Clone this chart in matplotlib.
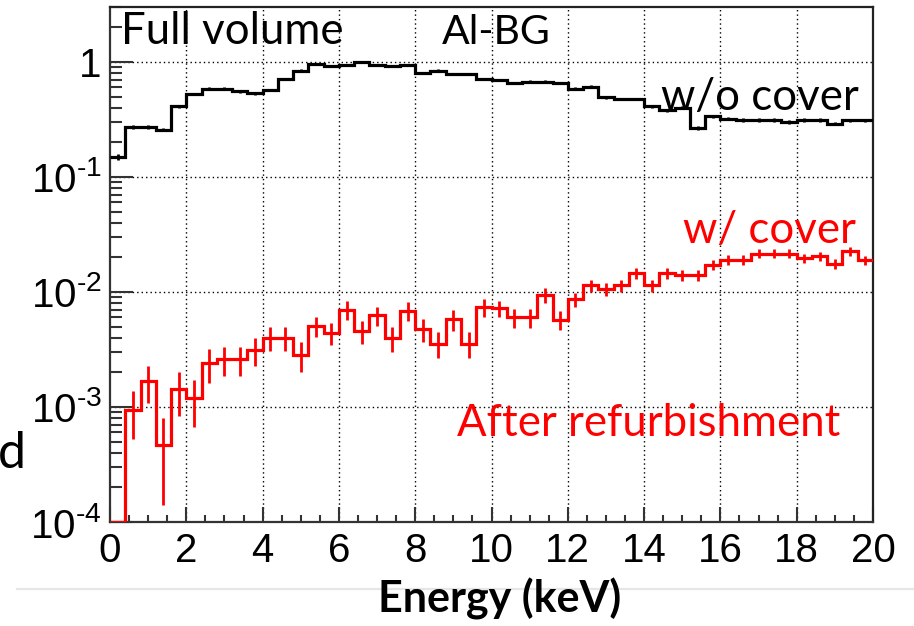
import numpy as np
import matplotlib
matplotlib.use("Agg")
import matplotlib.pyplot as plt
from matplotlib.lines import Line2D
from matplotlib.ticker import FixedLocator, FixedFormatter, LogLocator, MultipleLocator, NullFormatter

# ---------------- data ----------------
bin_edges_keV = np.arange(0, 20.0001, 0.4)

wo_cover = [0.149, 0.272, 0.272, 0.258, 0.411, 0.527, 0.586, 0.586, 0.555, 0.533,
            0.571, 0.706, 0.840, 0.966, 0.916, 0.935, 1.000, 0.940, 0.916, 0.947,
            0.800, 0.840, 0.790, 0.790, 0.710, 0.700, 0.656, 0.674, 0.674, 0.652,
            0.586, 0.610, 0.492, 0.476, 0.476, 0.411, 0.380, 0.398, 0.265, 0.336,
            0.321, 0.313, 0.313, 0.313, 0.301, 0.313, 0.313, 0.290, 0.310, 0.310]
wo_cover_err = [0.009, 0.009, 0.009, 0.009, 0.012, 0.014, 0.015, 0.015, 0.015, 0.014,
                0.015, 0.017, 0.019, 0.021, 0.020, 0.020, 0.021, 0.020, 0.020, 0.020,
                0.018, 0.019, 0.018, 0.018, 0.017, 0.017, 0.016, 0.016, 0.016, 0.016,
                0.015, 0.015, 0.014, 0.013, 0.013, 0.012, 0.012, 0.012, 0.010, 0.011,
                0.011, 0.011, 0.011, 0.011, 0.011, 0.011, 0.011, 0.010, 0.011, 0.011]

w_cover = [0.0, 9.5e-4, 1.68e-3, 4.7e-4, 1.43e-3, 1.19e-3, 2.40e-3, 2.60e-3, 2.60e-3, 3.13e-3,
           4.00e-3, 4.00e-3, 2.85e-3, 5.05e-3, 4.38e-3, 7.00e-3, 4.55e-3, 6.26e-3, 3.98e-3, 6.87e-3,
           4.75e-3, 3.56e-3, 5.77e-3, 3.56e-3, 7.36e-3, 7.20e-3, 6.00e-3, 6.00e-3, 9.40e-3, 5.74e-3,
           8.60e-3, 0.0114, 0.0106, 0.0114, 0.0146, 0.0114, 0.0146, 0.0141, 0.0141, 0.0173,
           0.0191, 0.0191, 0.0215, 0.0215, 0.0215, 0.0197, 0.0204, 0.0176, 0.0226, 0.0188]
w_cover_err = [0.0, 4.2e-4, 6.0e-4, 3.3e-4, 5.9e-4, 5.2e-4, 7.7e-4, 7.5e-4, 7.5e-4, 8.5e-4,
               9.5e-4, 9.5e-4, 8.3e-4, 1.0e-3, 9.5e-4, 1.3e-3, 1.0e-3, 1.2e-3, 9.5e-4, 1.25e-3,
               1.05e-3, 9.0e-4, 1.15e-3, 9.0e-4, 1.25e-3, 1.2e-3, 1.1e-3, 1.1e-3, 1.35e-3, 1.05e-3,
               1.25e-3, 1.4e-3, 1.35e-3, 1.4e-3, 1.6e-3, 1.4e-3, 1.6e-3, 1.55e-3, 1.55e-3, 1.7e-3,
               1.8e-3, 1.8e-3, 1.9e-3, 1.9e-3, 1.9e-3, 1.8e-3, 1.85e-3, 1.7e-3, 1.95e-3, 1.75e-3]

x_ticks = [0, 2, 4, 6, 8, 10, 12, 14, 16, 18, 20]
x_tick_labels = ["0", "2", "4", "6", "8", "10", "12", "14", "16", "18", "20"]
y_ticks = [1e-4, 1e-3, 1e-2, 1e-1, 1]
y_tick_labels = [r"$\mathdefault{10^{\text{-4}}}$", r"$\mathdefault{10^{\text{-3}}}$",
                 r"$\mathdefault{10^{\text{-2}}}$", r"$\mathdefault{10^{\text{-1}}}$", "1"]
y_range = (1e-4, 3.0)

# ---------------- style ----------------
plt.rcParams["font.family"] = ["Liberation Sans", "DejaVu Sans"]
plt.rcParams["mathtext.fontset"] = "custom"
plt.rcParams["mathtext.rm"] = "Liberation Sans"

W, H = 914, 626
fig = plt.figure(figsize=(W / 100, H / 100), dpi=100)
L, R, B, T = 110, 873, 522, 7
ax = fig.add_axes([L / W, 1 - B / H, (R - L) / W, (B - T) / H])

def fx(px):
    return px / W

def fy(py):
    return 1 - py / H

edges = np.array(bin_edges_keV)
centers = 0.5 * (edges[:-1] + edges[1:])
wo = np.array(wo_cover)
wc = np.array(w_cover)

ax.set_yscale("log")
ax.set_xlim(0, 20)
ax.set_ylim(*y_range)

# grid
for xv in x_ticks[1:-1]:
    ax.axvline(xv, color="black", lw=1.0, ls=(0, (1, 2.2)), zorder=1)
for yv in y_ticks[1:]:
    ax.axhline(yv, color="black", lw=1.0, ls=(0, (1, 2.2)), zorder=1)

# black histogram
ax.stairs(wo, edges, baseline=None, color="black", lw=2.3, zorder=3)
ax.errorbar(centers, wo, yerr=wo_cover_err, fmt="none", ecolor="black",
            elinewidth=2.0, capsize=0, zorder=3)

# red histogram
wc_draw = np.where(wc > 0, wc, y_range[0])
ax.stairs(wc_draw, edges, baseline=None, color="#ff0000", lw=2.3, zorder=4)
m = wc > 0
ax.errorbar(centers[m], wc[m], yerr=np.array(w_cover_err)[m], fmt="none",
            ecolor="#ff0000", elinewidth=2.0, capsize=0, zorder=4)

# ticks
ax.xaxis.set_major_locator(FixedLocator(x_ticks))
ax.xaxis.set_major_formatter(FixedFormatter(x_tick_labels))
ax.xaxis.set_minor_locator(MultipleLocator(0.5))
ax.yaxis.set_major_locator(FixedLocator(y_ticks))
ax.yaxis.set_major_formatter(FixedFormatter(y_tick_labels))
ax.yaxis.set_minor_locator(LogLocator(base=10, subs=np.arange(2, 10)))
ax.yaxis.set_minor_formatter(NullFormatter())

ax.tick_params(axis="x", which="major", direction="in", length=10.5, width=1.5,
               color="#333333", labelsize=29, pad=7, top=False)
ax.tick_params(axis="x", which="minor", direction="in", length=5.2, width=1.5,
               color="#333333", top=False)
ax.tick_params(axis="y", which="major", direction="in", length=16.5, width=1.5,
               color="#333333", labelsize=29, pad=6, right=False)
ax.tick_params(axis="y", which="minor", direction="in", length=8.5, width=1.5,
               color="#333333", right=False)

for s in ["left", "bottom"]:
    ax.spines[s].set_color("#333333")
    ax.spines[s].set_linewidth(1.6)
for s in ["top", "right"]:
    ax.spines[s].set_color("#222222")
    ax.spines[s].set_linewidth(1.6)

# annotations
tf = ["Lato", "DejaVu Sans"]
fig.text(fx(121), fy(44), "Full volume", fontsize=31.5, family=tf, color="black", va="baseline")
fig.text(fx(442), fy(44), "Al-BG", fontsize=29.5, family=tf, color="black", va="baseline")
fig.text(fx(661), fy(110), "w/o cover", fontsize=31.5, family=tf, color="black", va="baseline")
fig.text(fx(683), fy(243), "w/ cover", fontsize=31.5, family=tf, color="#ff0000", va="baseline")
fig.text(fx(457), fy(436), "After refurbishment", fontsize=31.5, family=tf, color="#ff0000", va="baseline")
fig.text(fx(500), fy(612), "Energy (keV)", fontsize=31, family=tf, fontweight="bold",
         color="black", ha="center", va="baseline")
fig.text(fx(-2), fy(468), "d", fontsize=36, family=tf, color="black", va="baseline")

fig.add_artist(Line2D([fx(17), fx(914)], [fy(589), fy(589)], color="#e6e6e6", lw=1.6))

fig.savefig("out.png", dpi=100)
